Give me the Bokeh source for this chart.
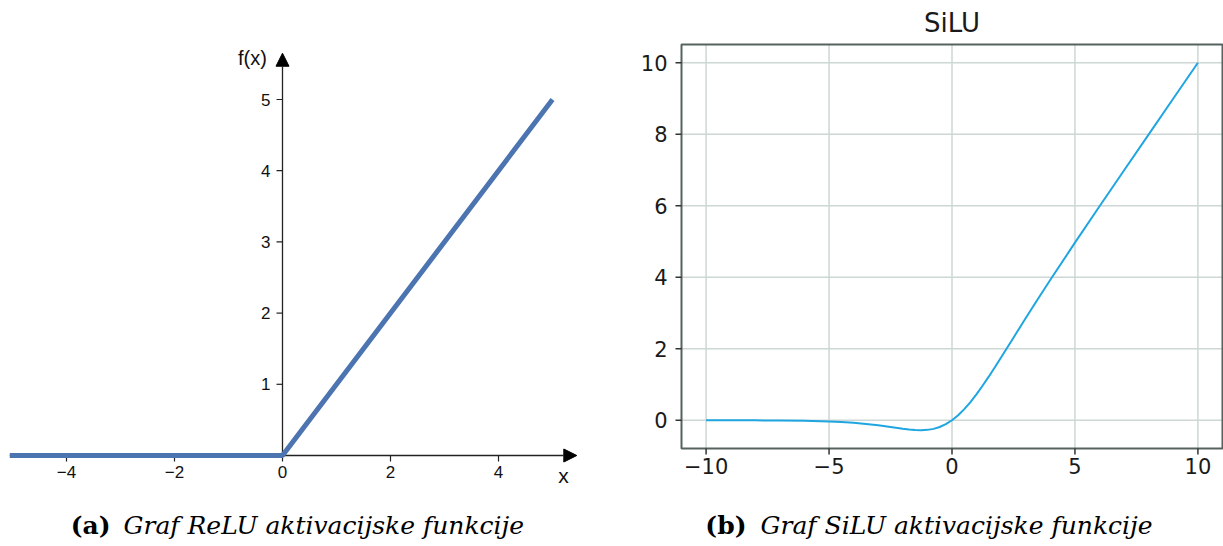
from bokeh.plotting import figure
from bokeh.models import Range1d, Arrow, NormalHead
from bokeh.core.properties import value
from bokeh.embed import file_html
from bokeh.resources import INLINE

# ---------------- data ----------------
relu_x = [-5.05, 0, 5]
relu_y = [0, 0, 5]
relu_xticks = [-4, -2, 0, 2, 4]
relu_xtick_labels = ["\u22124", "\u22122", "0", "2", "4"]
relu_yticks = [1, 2, 3, 4, 5]
relu_ytick_labels = ["1", "2", "3", "4", "5"]

silu_x = [-10, -9, -8, -7, -6, -5, -4.5, -4, -3.5, -3, -2.5, -2, -1.75, -1.5,
          -1.25, -1, -0.75, -0.5, -0.25, 0, 0.25, 0.5, 0.75, 1, 1.25, 1.5,
          1.75, 2, 2.5, 3, 3.5, 4, 5, 6, 7, 8, 9, 10]
silu_y = [-0.0005, -0.001, -0.003, -0.006, -0.015, -0.034, -0.05, -0.072,
          -0.103, -0.142, -0.19, -0.238, -0.259, -0.274, -0.278, -0.269,
          -0.241, -0.189, -0.11, 0.0, 0.141, 0.311, 0.509, 0.731, 0.972,
          1.226, 1.491, 1.762, 2.31, 2.858, 3.398, 3.928, 4.967, 5.985,
          6.994, 7.997, 8.999, 10.0]
silu_xticks = [-10, -5, 0, 5, 10]
silu_xtick_labels = ["\u221210", "\u22125", "0", "5", "10"]
silu_yticks = [0, 2, 4, 6, 8, 10]
silu_ytick_labels = ["0", "2", "4", "6", "8", "10"]
silu_title = "SiLU"

caption_tags = ["(a)", "(b)"]
caption_texts = ["Graf ReLU aktivacijske funkcije", "Graf SiLU aktivacijske funkcije"]

# ---------------- canvas ----------------
W, H = 1223, 546

# ReLU panel scale (main ranges): origin pixel and pixels per unit
ox, oy = 282, 455
kx, ky = 54.0, 71.2

# SiLU panel frame (pixels) and data limits
fl, fr, ft, fb = 681, 1222, 44, 448
sx0, sx1, sy0, sy1 = -11.0, 11.0, -0.79, 10.51
ux = (fr - fl) / (sx1 - sx0)
uy = (fb - ft) / (sy1 - sy0)

p = figure(width=W, height=H,
           x_range=Range1d(-ox / kx, (W - ox) / kx),
           y_range=Range1d(-(H - oy) / ky, oy / ky),
           x_axis_type=None, y_axis_type=None,
           toolbar_location=None, output_backend="svg",
           min_border=0, outline_line_color=None)
p.xgrid.visible = False
p.ygrid.visible = False

p.extra_x_ranges = {
    "sx": Range1d(sx0 - fl / ux, sx1 + (W - fr) / ux),
    "px": Range1d(0, W),
}
p.extra_y_ranges = {
    "sy": Range1d(sy0 - (H - fb) / uy, sy1 + ft / uy),
    "py": Range1d(H, 0),
}

# ================= ReLU =================
p.add_layout(Arrow(end=NormalHead(size=13, fill_color="black", line_color="black"),
                   x_start=-5.05, y_start=0, x_end=5.45, y_end=0,
                   line_width=1.3, line_color="#222222", level="underlay"))
p.add_layout(Arrow(end=NormalHead(size=13, fill_color="black", line_color="black"),
                   x_start=0, y_start=0, x_end=0, y_end=5.65,
                   line_width=1.3, line_color="#222222", level="underlay"))

p.segment(x0=relu_xticks, y0=0, x1=relu_xticks, y1=-6 / ky,
          line_color="#222222", line_width=1.2)
p.segment(x0=-6 / kx, y0=relu_yticks, x1=0, y1=relu_yticks,
          line_color="#222222", line_width=1.2)

p.text(x=relu_xticks, y=-10 / ky, text=relu_xtick_labels,
       text_align="center", text_baseline="top",
       text_font=value("Liberation Sans"), text_font_size="17px", text_color="#111111")
p.text(x=-12 / kx, y=relu_yticks, text=relu_ytick_labels,
       text_align="right", text_baseline="middle",
       text_font=value("Liberation Sans"), text_font_size="17px", text_color="#111111")

p.text(x=[-30 / kx], y=[398 / ky], text=["f(x)"], text_align="center", text_baseline="middle",
       text_font=value("Liberation Sans"), text_font_size="20px", text_color="#111111")
p.text(x=[281 / kx], y=[-20 / ky], text=["x"], text_align="center", text_baseline="middle",
       text_font=value("Liberation Sans"), text_font_size="21px", text_color="#111111")

p.line(relu_x, relu_y, line_width=5, line_color="#4b74b1", line_cap="butt")

# ================= SiLU =================
S = dict(x_range_name="sx", y_range_name="sy")
# grid
p.segment(x0=silu_xticks, y0=sy0, x1=silu_xticks, y1=sy1,
          line_color="#cdd7d5", line_width=1.5, **S)
p.segment(x0=sx0, y0=silu_yticks, x1=sx1, y1=silu_yticks,
          line_color="#cdd7d5", line_width=1.5, **S)
# curve
p.line(silu_x, silu_y, line_width=2, line_color="#1fa6e0", **S)
# frame
p.quad(left=[sx0], right=[sx1], bottom=[sy0], top=[sy1], fill_color=None,
       line_color="#56625f", line_width=2, **S)
# ticks
p.segment(x0=silu_xticks, y0=sy0, x1=silu_xticks, y1=sy0 - 6 / uy,
          line_color="#333333", line_width=1.5, **S)
p.segment(x0=sx0 - 6 / ux, y0=silu_yticks, x1=sx0, y1=silu_yticks,
          line_color="#333333", line_width=1.5, **S)
# tick labels
p.text(x=silu_xticks, y=sy0 - 9 / uy, text=silu_xtick_labels,
       text_align="center", text_baseline="top",
       text_font=value("DejaVu Sans"), text_font_size="21px", text_color="#1a1a1a", **S)
p.text(x=sx0 - 14 / ux, y=silu_yticks, text=silu_ytick_labels,
       text_align="right", text_baseline="middle",
       text_font=value("DejaVu Sans"), text_font_size="21px", text_color="#1a1a1a", **S)
# title
p.text(x=[(sx0 + sx1) / 2], y=[sy1 + 22 / uy], text=[silu_title],
       text_align="center", text_baseline="middle",
       text_font=value("DejaVu Sans"), text_font_size="26px", text_color="#1a1a1a", **S)

# ================= captions =================
P = dict(x_range_name="px", y_range_name="py")
p.text(x=[110, 746], y=[525, 525], text=caption_tags, text_align="right", text_baseline="middle",
       text_font=value("DejaVu Serif"), text_font_style="bold", text_font_size="25px",
       text_color="#000000", **P)
p.text(x=[123, 760], y=[525, 525], text=caption_texts, text_align="left", text_baseline="middle",
       text_font=value("DejaVu Serif"), text_font_style="italic", text_font_size="25px",
       text_color="#000000", **P)

open("out.html", "w").write(file_html(p, INLINE))
